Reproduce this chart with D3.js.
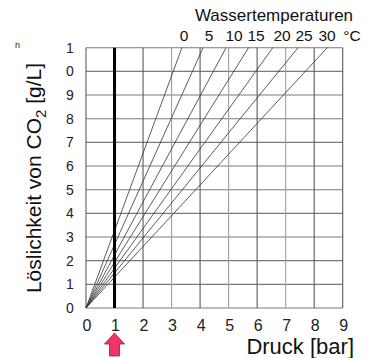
<!DOCTYPE html>
<html><head><meta charset="utf-8">
<script src="https://cdn.jsdelivr.net/npm/d3@7"></script>
<style>body{margin:0;background:#fff;}svg{display:block;font-family:"Liberation Sans",Arial,sans-serif;}</style>
</head><body>
<script>
const temperatures = [0, 5, 10, 15, 20, 25, 30];
const solubilityAt1Bar = [3.27, 2.68, 2.24, 1.93, 1.68, 1.48, 1.30];
const xTicks = [0,1,2,3,4,5,6,7,8,9];
const yTicks = [0,1,2,3,4,5,6,7,8,9,10,11];
const yTickLabels = ["0","1","2","3","4","5","6","7","8","9","0","1"];
const markedPressure = 1;

const W = 370, H = 358;
const svg = d3.select("body").append("svg").attr("width", W).attr("height", H);
const x = d3.scaleLinear().domain([0, 9]).range([86, 342.7]);
const y = d3.scaleLinear().domain([0, 11]).range([308, 47.7]);

// grid
svg.append("g").selectAll("line").data(yTicks).join("line")
  .attr("x1", x(0)).attr("x2", x(9)).attr("y1", d => y(d)).attr("y2", d => y(d))
  .attr("stroke", "#7a7a7a").attr("stroke-width", 1.1);
svg.append("g").selectAll("line").data(xTicks).join("line")
  .attr("x1", d => x(d)).attr("x2", d => x(d)).attr("y1", y(0)).attr("y2", y(11))
  .attr("stroke", d => (d % 2 === 0 || d === 9) ? "#5a5a5a" : "#a0a0a0").attr("stroke-width", 1.1);

// temperature lines
const maxY = 11;
const lineData = temperatures.map((t, i) => ({t, s: solubilityAt1Bar[i], pEnd: maxY / solubilityAt1Bar[i]}));
svg.append("g").selectAll("line").data(lineData).join("line")
  .attr("x1", x(0)).attr("y1", y(0))
  .attr("x2", d => x(d.pEnd)).attr("y2", y(maxY))
  .attr("stroke", "#333").attr("stroke-width", 0.8);

// thick line at 1 bar
svg.append("line").attr("x1", x(markedPressure)).attr("x2", x(markedPressure))
  .attr("y1", y(0)).attr("y2", y(11)).attr("stroke", "#000").attr("stroke-width", 3);

// y tick labels
svg.append("g").selectAll("text").data(yTicks).join("text")
  .attr("x", 70).attr("y", d => y(d) + 5).attr("text-anchor", "middle")
  .attr("font-size", 14).attr("fill", "#222").text((d, i) => yTickLabels[i]);
// x tick labels
svg.append("g").selectAll("text").data(xTicks).join("text")
  .attr("x", d => x(d) + 1).attr("y", 331).attr("text-anchor", "middle")
  .attr("font-size", 16).attr("fill", "#222").text(d => d);

// temperature labels
const tempLabelX = [184, 209, 234, 256, 282, 304, 327];
svg.append("g").selectAll("text").data(lineData).join("text")
  .attr("x", (d, i) => tempLabelX[i])
  .attr("y", 41).attr("text-anchor", "middle").attr("font-size", 15.5)
  .attr("fill", "#111").attr("textLength", d => d.t < 10 ? 8 : 17).text(d => d.t);
svg.append("text").attr("x", 352).attr("y", 41).attr("text-anchor", "middle")
  .attr("font-size", 15.5).attr("fill", "#111").text("°C");
svg.append("text").attr("x", 274).attr("y", 21).attr("text-anchor", "middle")
  .attr("font-size", 17).attr("fill", "#111").text("Wassertemperaturen");

// axis titles
svg.append("text").attr("x", 354).attr("y", 354).attr("text-anchor", "end")
  .attr("font-size", 22).attr("fill", "#111").text("Druck [bar]");
const yt = svg.append("text").attr("transform", "translate(41,178) rotate(-90)")
  .attr("text-anchor", "middle").attr("font-size", 21).attr("fill", "#111");
yt.append("tspan").text("Löslichkeit von CO");
yt.append("tspan").attr("dy", 5).attr("font-size", 15).text("2");
yt.append("tspan").attr("dy", -5).text(" [g/L]");

svg.append("text").attr("x", 15).attr("y", 48).attr("font-size", 9).attr("fill", "#222").text("n");

// pink arrow
const ax = x(markedPressure);
svg.append("path")
  .attr("d", `M${ax},333 L${ax+10},344 L${ax+5},344 L${ax+5},356 L${ax-5},356 L${ax-5},344 L${ax-10},344 Z`)
  .attr("fill", "#f0336c").attr("stroke", "#a0163f").attr("stroke-width", 0.8);
</script>
</body></html>
